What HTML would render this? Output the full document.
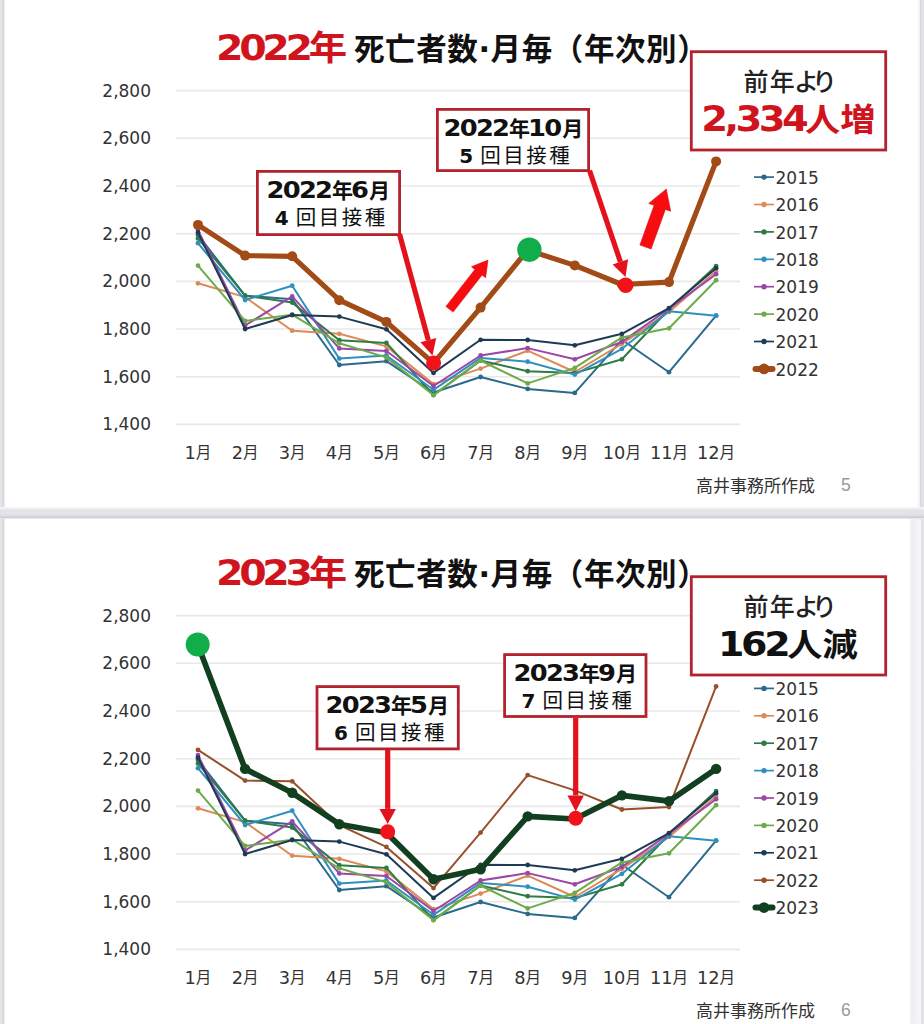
<!DOCTYPE html>
<html lang="ja"><head><meta charset="utf-8"><title>死亡者数・月毎（年次別）</title>
<style>
html,body{margin:0;padding:0;background:#fff;}
body{width:924px;height:1024px;overflow:hidden;position:relative;}
.edgel{position:absolute;top:0;bottom:0;left:0;width:6px;background:linear-gradient(to right,#e8e8ee 0,#e2e2e7 1.5px,#d6d6db 3.5px,#f4f4f6 4.6px,rgba(255,255,255,0) 6px);}
.edger{position:absolute;top:0;bottom:0;right:0;width:7px;background:linear-gradient(to right,rgba(255,255,255,0) 0,#f2f2f5 2.5px,#d9d9dd 3.4px,#e2e2e6 4.3px,#e2e2e6 7px);}
.sep{position:absolute;left:0;right:0;top:506.5px;height:12.5px;background:linear-gradient(#f6f6f8 0,#f1f1f4 1.5px,#e2e2e7 3.5px,#e4e4ed 6px,#dedee2 8.5px,#cfcfd3 10.5px,#e8e8ea 11.5px,#fff 12.5px);}
svg{position:absolute;left:0;top:0;}
.band{position:absolute;left:909.5px;top:518px;bottom:0;width:11px;background:linear-gradient(to right,#f7f7f8 0,#efeff1 1px,#f0f0f2 5.5px,#f4f4f6 7px,#f5f5f7 10.5px);}
</style></head><body>
<svg width="924" height="1024" viewBox="0 0 924 1024">
<g transform="translate(216 59.6) scale(1.13 1)"><text x="0" y="0" font-family='"DejaVu Sans", "Noto Sans CJK JP", sans-serif' font-weight="700" font-size="35" letter-spacing="-3.83" fill="#d0141e">2022<tspan font-family='"Noto Sans CJK JP", sans-serif' font-size="34" letter-spacing="0">年</tspan></text></g>
<text x="354" y="60" font-family='"Noto Sans CJK JP", sans-serif' font-weight="700" font-size="30.5" letter-spacing="0.6" fill="#111">死亡者数<tspan font-family='"DejaVu Sans", "Noto Sans CJK JP", sans-serif'>·</tspan>月毎（年次別）</text>
<line x1="176" y1="424.4" x2="740" y2="424.4" stroke="#e8e8e8" stroke-width="1.6"/>
<text x="151" y="430.4" text-anchor="end" font-family='"DejaVu Sans", "Noto Sans CJK JP", sans-serif' font-size="17" fill="#333">1,400</text>
<line x1="176" y1="376.7" x2="740" y2="376.7" stroke="#e8e8e8" stroke-width="1.6"/>
<text x="151" y="382.7" text-anchor="end" font-family='"DejaVu Sans", "Noto Sans CJK JP", sans-serif' font-size="17" fill="#333">1,600</text>
<line x1="176" y1="329.0" x2="740" y2="329.0" stroke="#e8e8e8" stroke-width="1.6"/>
<text x="151" y="335.0" text-anchor="end" font-family='"DejaVu Sans", "Noto Sans CJK JP", sans-serif' font-size="17" fill="#333">1,800</text>
<line x1="176" y1="281.4" x2="740" y2="281.4" stroke="#e8e8e8" stroke-width="1.6"/>
<text x="151" y="287.4" text-anchor="end" font-family='"DejaVu Sans", "Noto Sans CJK JP", sans-serif' font-size="17" fill="#333">2,000</text>
<line x1="176" y1="233.7" x2="740" y2="233.7" stroke="#e8e8e8" stroke-width="1.6"/>
<text x="151" y="239.7" text-anchor="end" font-family='"DejaVu Sans", "Noto Sans CJK JP", sans-serif' font-size="17" fill="#333">2,200</text>
<line x1="176" y1="186.0" x2="740" y2="186.0" stroke="#e8e8e8" stroke-width="1.6"/>
<text x="151" y="192.0" text-anchor="end" font-family='"DejaVu Sans", "Noto Sans CJK JP", sans-serif' font-size="17" fill="#333">2,400</text>
<line x1="176" y1="138.3" x2="740" y2="138.3" stroke="#e8e8e8" stroke-width="1.6"/>
<text x="151" y="144.3" text-anchor="end" font-family='"DejaVu Sans", "Noto Sans CJK JP", sans-serif' font-size="17" fill="#333">2,600</text>
<line x1="176" y1="90.6" x2="740" y2="90.6" stroke="#e8e8e8" stroke-width="1.6"/>
<text x="151" y="96.6" text-anchor="end" font-family='"DejaVu Sans", "Noto Sans CJK JP", sans-serif' font-size="17" fill="#333">2,800</text>
<text x="198.0" y="459.3" text-anchor="middle" font-family='"DejaVu Sans", "Noto Sans CJK JP", sans-serif' font-size="17.8" fill="#333">1<tspan font-family='"Noto Sans CJK JP", sans-serif' font-size="15.6" dy="-1.2">月</tspan></text>
<text x="245.1" y="459.3" text-anchor="middle" font-family='"DejaVu Sans", "Noto Sans CJK JP", sans-serif' font-size="17.8" fill="#333">2<tspan font-family='"Noto Sans CJK JP", sans-serif' font-size="15.6" dy="-1.2">月</tspan></text>
<text x="292.2" y="459.3" text-anchor="middle" font-family='"DejaVu Sans", "Noto Sans CJK JP", sans-serif' font-size="17.8" fill="#333">3<tspan font-family='"Noto Sans CJK JP", sans-serif' font-size="15.6" dy="-1.2">月</tspan></text>
<text x="339.3" y="459.3" text-anchor="middle" font-family='"DejaVu Sans", "Noto Sans CJK JP", sans-serif' font-size="17.8" fill="#333">4<tspan font-family='"Noto Sans CJK JP", sans-serif' font-size="15.6" dy="-1.2">月</tspan></text>
<text x="386.4" y="459.3" text-anchor="middle" font-family='"DejaVu Sans", "Noto Sans CJK JP", sans-serif' font-size="17.8" fill="#333">5<tspan font-family='"Noto Sans CJK JP", sans-serif' font-size="15.6" dy="-1.2">月</tspan></text>
<text x="433.5" y="459.3" text-anchor="middle" font-family='"DejaVu Sans", "Noto Sans CJK JP", sans-serif' font-size="17.8" fill="#333">6<tspan font-family='"Noto Sans CJK JP", sans-serif' font-size="15.6" dy="-1.2">月</tspan></text>
<text x="480.6" y="459.3" text-anchor="middle" font-family='"DejaVu Sans", "Noto Sans CJK JP", sans-serif' font-size="17.8" fill="#333">7<tspan font-family='"Noto Sans CJK JP", sans-serif' font-size="15.6" dy="-1.2">月</tspan></text>
<text x="527.7" y="459.3" text-anchor="middle" font-family='"DejaVu Sans", "Noto Sans CJK JP", sans-serif' font-size="17.8" fill="#333">8<tspan font-family='"Noto Sans CJK JP", sans-serif' font-size="15.6" dy="-1.2">月</tspan></text>
<text x="574.8" y="459.3" text-anchor="middle" font-family='"DejaVu Sans", "Noto Sans CJK JP", sans-serif' font-size="17.8" fill="#333">9<tspan font-family='"Noto Sans CJK JP", sans-serif' font-size="15.6" dy="-1.2">月</tspan></text>
<text x="621.9" y="459.3" text-anchor="middle" font-family='"DejaVu Sans", "Noto Sans CJK JP", sans-serif' font-size="17.8" fill="#333">10<tspan font-family='"Noto Sans CJK JP", sans-serif' font-size="15.6" dy="-1.2">月</tspan></text>
<text x="669.0" y="459.3" text-anchor="middle" font-family='"DejaVu Sans", "Noto Sans CJK JP", sans-serif' font-size="17.8" fill="#333">11<tspan font-family='"Noto Sans CJK JP", sans-serif' font-size="15.6" dy="-1.2">月</tspan></text>
<text x="716.1" y="459.3" text-anchor="middle" font-family='"DejaVu Sans", "Noto Sans CJK JP", sans-serif' font-size="17.8" fill="#333">12<tspan font-family='"Noto Sans CJK JP", sans-serif' font-size="15.6" dy="-1.2">月</tspan></text>
<polyline points="198.0,234.9 245.1,295.7 292.2,299.2 339.3,365.0 386.4,361.2 433.5,392.5 480.6,377.0 527.7,388.9 574.8,392.9 621.9,339.8 669.0,372.2 716.1,315.7" fill="none" stroke="#2b6a8c" stroke-width="2" stroke-linejoin="round"/><circle cx="198.0" cy="234.9" r="2.4" fill="#2b6a8c"/><circle cx="245.1" cy="295.7" r="2.4" fill="#2b6a8c"/><circle cx="292.2" cy="299.2" r="2.4" fill="#2b6a8c"/><circle cx="339.3" cy="365.0" r="2.4" fill="#2b6a8c"/><circle cx="386.4" cy="361.2" r="2.4" fill="#2b6a8c"/><circle cx="433.5" cy="392.5" r="2.4" fill="#2b6a8c"/><circle cx="480.6" cy="377.0" r="2.4" fill="#2b6a8c"/><circle cx="527.7" cy="388.9" r="2.4" fill="#2b6a8c"/><circle cx="574.8" cy="392.9" r="2.4" fill="#2b6a8c"/><circle cx="621.9" cy="339.8" r="2.4" fill="#2b6a8c"/><circle cx="669.0" cy="372.2" r="2.4" fill="#2b6a8c"/><circle cx="716.1" cy="315.7" r="2.4" fill="#2b6a8c"/>
<polyline points="198.0,283.3 245.1,297.1 292.2,330.7 339.3,333.8 386.4,346.4 433.5,384.1 480.6,368.6 527.7,350.7 574.8,372.0 621.9,343.8 669.0,311.9 716.1,271.3" fill="none" stroke="#dc8a5a" stroke-width="2" stroke-linejoin="round"/><circle cx="198.0" cy="283.3" r="2.4" fill="#dc8a5a"/><circle cx="245.1" cy="297.1" r="2.4" fill="#dc8a5a"/><circle cx="292.2" cy="330.7" r="2.4" fill="#dc8a5a"/><circle cx="339.3" cy="333.8" r="2.4" fill="#dc8a5a"/><circle cx="386.4" cy="346.4" r="2.4" fill="#dc8a5a"/><circle cx="433.5" cy="384.1" r="2.4" fill="#dc8a5a"/><circle cx="480.6" cy="368.6" r="2.4" fill="#dc8a5a"/><circle cx="527.7" cy="350.7" r="2.4" fill="#dc8a5a"/><circle cx="574.8" cy="372.0" r="2.4" fill="#dc8a5a"/><circle cx="621.9" cy="343.8" r="2.4" fill="#dc8a5a"/><circle cx="669.0" cy="311.9" r="2.4" fill="#dc8a5a"/><circle cx="716.1" cy="271.3" r="2.4" fill="#dc8a5a"/>
<polyline points="198.0,238.4 245.1,295.7 292.2,302.6 339.3,340.2 386.4,342.9 433.5,395.1 480.6,360.5 527.7,371.2 574.8,373.1 621.9,359.3 669.0,309.3 716.1,266.1" fill="none" stroke="#2f7a45" stroke-width="2" stroke-linejoin="round"/><circle cx="198.0" cy="238.4" r="2.4" fill="#2f7a45"/><circle cx="245.1" cy="295.7" r="2.4" fill="#2f7a45"/><circle cx="292.2" cy="302.6" r="2.4" fill="#2f7a45"/><circle cx="339.3" cy="340.2" r="2.4" fill="#2f7a45"/><circle cx="386.4" cy="342.9" r="2.4" fill="#2f7a45"/><circle cx="433.5" cy="395.1" r="2.4" fill="#2f7a45"/><circle cx="480.6" cy="360.5" r="2.4" fill="#2f7a45"/><circle cx="527.7" cy="371.2" r="2.4" fill="#2f7a45"/><circle cx="574.8" cy="373.1" r="2.4" fill="#2f7a45"/><circle cx="621.9" cy="359.3" r="2.4" fill="#2f7a45"/><circle cx="669.0" cy="309.3" r="2.4" fill="#2f7a45"/><circle cx="716.1" cy="266.1" r="2.4" fill="#2f7a45"/>
<polyline points="198.0,243.2 245.1,300.0 292.2,285.7 339.3,358.6 386.4,355.5 433.5,389.8 480.6,357.9 527.7,361.7 574.8,374.6 621.9,348.8 669.0,311.2 716.1,315.7" fill="none" stroke="#2f90bf" stroke-width="2" stroke-linejoin="round"/><circle cx="198.0" cy="243.2" r="2.4" fill="#2f90bf"/><circle cx="245.1" cy="300.0" r="2.4" fill="#2f90bf"/><circle cx="292.2" cy="285.7" r="2.4" fill="#2f90bf"/><circle cx="339.3" cy="358.6" r="2.4" fill="#2f90bf"/><circle cx="386.4" cy="355.5" r="2.4" fill="#2f90bf"/><circle cx="433.5" cy="389.8" r="2.4" fill="#2f90bf"/><circle cx="480.6" cy="357.9" r="2.4" fill="#2f90bf"/><circle cx="527.7" cy="361.7" r="2.4" fill="#2f90bf"/><circle cx="574.8" cy="374.6" r="2.4" fill="#2f90bf"/><circle cx="621.9" cy="348.8" r="2.4" fill="#2f90bf"/><circle cx="669.0" cy="311.2" r="2.4" fill="#2f90bf"/><circle cx="716.1" cy="315.7" r="2.4" fill="#2f90bf"/>
<polyline points="198.0,230.1 245.1,325.5 292.2,296.4 339.3,348.4 386.4,351.0 433.5,386.0 480.6,355.5 527.7,348.1 574.8,359.3 621.9,341.9 669.0,308.8 716.1,274.2" fill="none" stroke="#9b47a6" stroke-width="2" stroke-linejoin="round"/><circle cx="198.0" cy="230.1" r="2.4" fill="#9b47a6"/><circle cx="245.1" cy="325.5" r="2.4" fill="#9b47a6"/><circle cx="292.2" cy="296.4" r="2.4" fill="#9b47a6"/><circle cx="339.3" cy="348.4" r="2.4" fill="#9b47a6"/><circle cx="386.4" cy="351.0" r="2.4" fill="#9b47a6"/><circle cx="433.5" cy="386.0" r="2.4" fill="#9b47a6"/><circle cx="480.6" cy="355.5" r="2.4" fill="#9b47a6"/><circle cx="527.7" cy="348.1" r="2.4" fill="#9b47a6"/><circle cx="574.8" cy="359.3" r="2.4" fill="#9b47a6"/><circle cx="621.9" cy="341.9" r="2.4" fill="#9b47a6"/><circle cx="669.0" cy="308.8" r="2.4" fill="#9b47a6"/><circle cx="716.1" cy="274.2" r="2.4" fill="#9b47a6"/>
<polyline points="198.0,265.6 245.1,320.9 292.2,314.7 339.3,343.3 386.4,357.4 433.5,395.1 480.6,360.5 527.7,383.4 574.8,367.9 621.9,337.4 669.0,328.3 716.1,280.2" fill="none" stroke="#6cab4a" stroke-width="2" stroke-linejoin="round"/><circle cx="198.0" cy="265.6" r="2.4" fill="#6cab4a"/><circle cx="245.1" cy="320.9" r="2.4" fill="#6cab4a"/><circle cx="292.2" cy="314.7" r="2.4" fill="#6cab4a"/><circle cx="339.3" cy="343.3" r="2.4" fill="#6cab4a"/><circle cx="386.4" cy="357.4" r="2.4" fill="#6cab4a"/><circle cx="433.5" cy="395.1" r="2.4" fill="#6cab4a"/><circle cx="480.6" cy="360.5" r="2.4" fill="#6cab4a"/><circle cx="527.7" cy="383.4" r="2.4" fill="#6cab4a"/><circle cx="574.8" cy="367.9" r="2.4" fill="#6cab4a"/><circle cx="621.9" cy="337.4" r="2.4" fill="#6cab4a"/><circle cx="669.0" cy="328.3" r="2.4" fill="#6cab4a"/><circle cx="716.1" cy="280.2" r="2.4" fill="#6cab4a"/>
<polyline points="198.0,232.5 245.1,329.0 292.2,315.0 339.3,316.6 386.4,329.3 433.5,372.9 480.6,339.8 527.7,340.0 574.8,345.3 621.9,333.8 669.0,308.1 716.1,268.2" fill="none" stroke="#1f3b54" stroke-width="2" stroke-linejoin="round"/><circle cx="198.0" cy="232.5" r="2.4" fill="#1f3b54"/><circle cx="245.1" cy="329.0" r="2.4" fill="#1f3b54"/><circle cx="292.2" cy="315.0" r="2.4" fill="#1f3b54"/><circle cx="339.3" cy="316.6" r="2.4" fill="#1f3b54"/><circle cx="386.4" cy="329.3" r="2.4" fill="#1f3b54"/><circle cx="433.5" cy="372.9" r="2.4" fill="#1f3b54"/><circle cx="480.6" cy="339.8" r="2.4" fill="#1f3b54"/><circle cx="527.7" cy="340.0" r="2.4" fill="#1f3b54"/><circle cx="574.8" cy="345.3" r="2.4" fill="#1f3b54"/><circle cx="621.9" cy="333.8" r="2.4" fill="#1f3b54"/><circle cx="669.0" cy="308.1" r="2.4" fill="#1f3b54"/><circle cx="716.1" cy="268.2" r="2.4" fill="#1f3b54"/>
<polyline points="198.0,224.9 245.1,255.6 292.2,256.3 339.3,300.2 386.4,321.9 433.5,363.1 480.6,307.6 527.7,250.1 574.8,265.4 621.9,284.5 669.0,282.1 716.1,161.4" fill="none" stroke="#a24b17" stroke-width="5.2" stroke-linejoin="round"/><circle cx="198.0" cy="224.9" r="5" fill="#a24b17"/><circle cx="245.1" cy="255.6" r="5" fill="#a24b17"/><circle cx="292.2" cy="256.3" r="5" fill="#a24b17"/><circle cx="339.3" cy="300.2" r="5" fill="#a24b17"/><circle cx="386.4" cy="321.9" r="5" fill="#a24b17"/><circle cx="433.5" cy="363.1" r="5" fill="#a24b17"/><circle cx="480.6" cy="307.6" r="5" fill="#a24b17"/><circle cx="527.7" cy="250.1" r="5" fill="#a24b17"/><circle cx="574.8" cy="265.4" r="5" fill="#a24b17"/><circle cx="621.9" cy="284.5" r="5" fill="#a24b17"/><circle cx="669.0" cy="282.1" r="5" fill="#a24b17"/><circle cx="716.1" cy="161.4" r="5" fill="#a24b17"/>
<line x1="754" y1="177.1" x2="774" y2="177.1" stroke="#2b6a8c" stroke-width="1.7"/><circle cx="764" cy="177.1" r="2.7" fill="#2b6a8c"/>
<text x="775.5" y="183.7" font-family='"DejaVu Sans", "Noto Sans CJK JP", sans-serif' font-size="17" fill="#333">2015</text>
<line x1="754" y1="204.5" x2="774" y2="204.5" stroke="#dc8a5a" stroke-width="1.7"/><circle cx="764" cy="204.5" r="2.7" fill="#dc8a5a"/>
<text x="775.5" y="211.1" font-family='"DejaVu Sans", "Noto Sans CJK JP", sans-serif' font-size="17" fill="#333">2016</text>
<line x1="754" y1="231.9" x2="774" y2="231.9" stroke="#2f7a45" stroke-width="1.7"/><circle cx="764" cy="231.9" r="2.7" fill="#2f7a45"/>
<text x="775.5" y="238.5" font-family='"DejaVu Sans", "Noto Sans CJK JP", sans-serif' font-size="17" fill="#333">2017</text>
<line x1="754" y1="259.3" x2="774" y2="259.3" stroke="#2f90bf" stroke-width="1.7"/><circle cx="764" cy="259.3" r="2.7" fill="#2f90bf"/>
<text x="775.5" y="265.9" font-family='"DejaVu Sans", "Noto Sans CJK JP", sans-serif' font-size="17" fill="#333">2018</text>
<line x1="754" y1="286.7" x2="774" y2="286.7" stroke="#9b47a6" stroke-width="1.7"/><circle cx="764" cy="286.7" r="2.7" fill="#9b47a6"/>
<text x="775.5" y="293.3" font-family='"DejaVu Sans", "Noto Sans CJK JP", sans-serif' font-size="17" fill="#333">2019</text>
<line x1="754" y1="314.1" x2="774" y2="314.1" stroke="#6cab4a" stroke-width="1.7"/><circle cx="764" cy="314.1" r="2.7" fill="#6cab4a"/>
<text x="775.5" y="320.7" font-family='"DejaVu Sans", "Noto Sans CJK JP", sans-serif' font-size="17" fill="#333">2020</text>
<line x1="754" y1="341.5" x2="774" y2="341.5" stroke="#1f3b54" stroke-width="1.7"/><circle cx="764" cy="341.5" r="2.7" fill="#1f3b54"/>
<text x="775.5" y="348.1" font-family='"DejaVu Sans", "Noto Sans CJK JP", sans-serif' font-size="17" fill="#333">2021</text>
<line x1="755.5" y1="368.9" x2="772.5" y2="368.9" stroke="#a24b17" stroke-width="6" stroke-linecap="round"/><circle cx="764" cy="368.9" r="5.3" fill="#a24b17"/>
<text x="775.5" y="375.5" font-family='"DejaVu Sans", "Noto Sans CJK JP", sans-serif' font-size="17" fill="#333">2022</text>
<rect x="257.4" y="171.4" width="142.2" height="63.2" fill="#fff" stroke="#b3222d" stroke-width="2.8"/><g transform="translate(266.5 198.0) scale(1.15 1)"><text x="0" y="0" font-family='"DejaVu Sans", "Noto Sans CJK JP", sans-serif' font-weight="700" font-size="22.4" letter-spacing="-1.5" fill="#111">2022</text></g><text x="332.0" y="198.0" font-family='"Noto Sans CJK JP", sans-serif' font-weight="700" font-size="21" fill="#111">年</text><g transform="translate(351.0 198.0) scale(1.15 1)"><text x="0" y="0" font-family='"DejaVu Sans", "Noto Sans CJK JP", sans-serif' font-weight="700" font-size="22.4" letter-spacing="-1.5" fill="#111">6</text></g><text x="369.0" y="198.0" font-family='"Noto Sans CJK JP", sans-serif' font-weight="700" font-size="21" fill="#111">月</text><text x="331.3" y="224.5" text-anchor="middle" font-family='"Noto Sans CJK JP", sans-serif' font-size="20.5" font-weight="400" letter-spacing="2.5" fill="#111"><tspan font-family='"DejaVu Sans", "Noto Sans CJK JP", sans-serif' font-weight="700" font-size="20" letter-spacing="0">4</tspan> 回目接種</text>
<rect x="437.4" y="109.4" width="151.2" height="61.2" fill="#fff" stroke="#b3222d" stroke-width="2.8"/><g transform="translate(443.5 136.0) scale(1.15 1)"><text x="0" y="0" font-family='"DejaVu Sans", "Noto Sans CJK JP", sans-serif' font-weight="700" font-size="22.4" letter-spacing="-1.5" fill="#111">2022</text></g><text x="509.0" y="136.0" font-family='"Noto Sans CJK JP", sans-serif' font-weight="700" font-size="21" fill="#111">年</text><g transform="translate(528.0 136.0) scale(1.15 1)"><text x="0" y="0" font-family='"DejaVu Sans", "Noto Sans CJK JP", sans-serif' font-weight="700" font-size="22.4" letter-spacing="-1.5" fill="#111">10</text></g><text x="562.2" y="136.0" font-family='"Noto Sans CJK JP", sans-serif' font-weight="700" font-size="21" fill="#111">月</text><text x="515.8" y="162.5" text-anchor="middle" font-family='"Noto Sans CJK JP", sans-serif' font-size="20.5" font-weight="400" letter-spacing="2.5" fill="#111"><tspan font-family='"DejaVu Sans", "Noto Sans CJK JP", sans-serif' font-weight="700" font-size="20" letter-spacing="0">5</tspan> 回目接種</text>
<line x1="399.5" y1="234" x2="428.3" y2="340.1" stroke="#e3121d" stroke-width="5.2"/><polygon points="432.5,355.5 420.4,342.2 436.2,337.9" fill="#e3121d"/>
<line x1="589.5" y1="170.5" x2="620.4" y2="261.8" stroke="#e3121d" stroke-width="5.2"/><polygon points="625.5,277 612.6,264.5 628.1,259.2" fill="#e3121d"/>
<circle cx="433.6" cy="363" r="7.5" fill="#f2121a"/>
<circle cx="625.7" cy="285.2" r="7.8" fill="#f2121a"/>
<circle cx="529.4" cy="249.7" r="12.2" fill="#12ad4b"/>
<polygon points="453.1,312.1 482.1,275.1 485.6,277.8 488.0,260.1 471.4,266.7 474.9,269.4 445.9,306.5" fill="#f70d10" stroke="#d80f18" stroke-width="0.6" stroke-linejoin="miter"/>
<polygon points="651.1,249.0 665.4,209.4 670.7,211.3 666.3,189.0 648.7,203.4 654.1,205.3 639.9,245.0" fill="#f70d10" stroke="#d80f18" stroke-width="0.6" stroke-linejoin="miter"/>
<rect x="691.3" y="51.7" width="194.4" height="98.3" fill="#fff" stroke="#b3222d" stroke-width="2.8"/>
<text x="743.5 769.7 793.9 812.1" y="90.7" font-family='"Noto Sans CJK JP", sans-serif' font-size="25" font-weight="500" fill="#222">前年より</text>
<g transform="translate(701.3 131) scale(1.1 1)"><text x="0" y="0" font-family='"DejaVu Sans", "Noto Sans CJK JP", sans-serif' font-weight="700" font-size="35" letter-spacing="-3.27" fill="#d0141e">2,334<tspan font-family='"Noto Sans CJK JP", sans-serif' font-size="32" letter-spacing="0">人増</tspan></text></g>
<text x="696" y="492" font-family='"Noto Sans CJK JP", sans-serif' font-size="17" fill="#333">高井事務所作成</text>
<text x="841" y="490.8" font-family="Liberation Sans, sans-serif" font-size="17.5" fill="#999">5</text>
<g transform="translate(216 584.6) scale(1.13 1)"><text x="0" y="0" font-family='"DejaVu Sans", "Noto Sans CJK JP", sans-serif' font-weight="700" font-size="35" letter-spacing="-3.83" fill="#d0141e">2023<tspan font-family='"Noto Sans CJK JP", sans-serif' font-size="34" letter-spacing="0">年</tspan></text></g>
<text x="354" y="585" font-family='"Noto Sans CJK JP", sans-serif' font-weight="700" font-size="30.5" letter-spacing="0.6" fill="#111">死亡者数<tspan font-family='"DejaVu Sans", "Noto Sans CJK JP", sans-serif'>·</tspan>月毎（年次別）</text>
<line x1="176" y1="949.4" x2="740" y2="949.4" stroke="#e8e8e8" stroke-width="1.6"/>
<text x="151" y="955.4" text-anchor="end" font-family='"DejaVu Sans", "Noto Sans CJK JP", sans-serif' font-size="17" fill="#333">1,400</text>
<line x1="176" y1="901.7" x2="740" y2="901.7" stroke="#e8e8e8" stroke-width="1.6"/>
<text x="151" y="907.7" text-anchor="end" font-family='"DejaVu Sans", "Noto Sans CJK JP", sans-serif' font-size="17" fill="#333">1,600</text>
<line x1="176" y1="854.0" x2="740" y2="854.0" stroke="#e8e8e8" stroke-width="1.6"/>
<text x="151" y="860.0" text-anchor="end" font-family='"DejaVu Sans", "Noto Sans CJK JP", sans-serif' font-size="17" fill="#333">1,800</text>
<line x1="176" y1="806.4" x2="740" y2="806.4" stroke="#e8e8e8" stroke-width="1.6"/>
<text x="151" y="812.4" text-anchor="end" font-family='"DejaVu Sans", "Noto Sans CJK JP", sans-serif' font-size="17" fill="#333">2,000</text>
<line x1="176" y1="758.7" x2="740" y2="758.7" stroke="#e8e8e8" stroke-width="1.6"/>
<text x="151" y="764.7" text-anchor="end" font-family='"DejaVu Sans", "Noto Sans CJK JP", sans-serif' font-size="17" fill="#333">2,200</text>
<line x1="176" y1="711.0" x2="740" y2="711.0" stroke="#e8e8e8" stroke-width="1.6"/>
<text x="151" y="717.0" text-anchor="end" font-family='"DejaVu Sans", "Noto Sans CJK JP", sans-serif' font-size="17" fill="#333">2,400</text>
<line x1="176" y1="663.3" x2="740" y2="663.3" stroke="#e8e8e8" stroke-width="1.6"/>
<text x="151" y="669.3" text-anchor="end" font-family='"DejaVu Sans", "Noto Sans CJK JP", sans-serif' font-size="17" fill="#333">2,600</text>
<line x1="176" y1="615.6" x2="740" y2="615.6" stroke="#e8e8e8" stroke-width="1.6"/>
<text x="151" y="621.6" text-anchor="end" font-family='"DejaVu Sans", "Noto Sans CJK JP", sans-serif' font-size="17" fill="#333">2,800</text>
<text x="198.0" y="984.3" text-anchor="middle" font-family='"DejaVu Sans", "Noto Sans CJK JP", sans-serif' font-size="17.8" fill="#333">1<tspan font-family='"Noto Sans CJK JP", sans-serif' font-size="15.6" dy="-1.2">月</tspan></text>
<text x="245.1" y="984.3" text-anchor="middle" font-family='"DejaVu Sans", "Noto Sans CJK JP", sans-serif' font-size="17.8" fill="#333">2<tspan font-family='"Noto Sans CJK JP", sans-serif' font-size="15.6" dy="-1.2">月</tspan></text>
<text x="292.2" y="984.3" text-anchor="middle" font-family='"DejaVu Sans", "Noto Sans CJK JP", sans-serif' font-size="17.8" fill="#333">3<tspan font-family='"Noto Sans CJK JP", sans-serif' font-size="15.6" dy="-1.2">月</tspan></text>
<text x="339.3" y="984.3" text-anchor="middle" font-family='"DejaVu Sans", "Noto Sans CJK JP", sans-serif' font-size="17.8" fill="#333">4<tspan font-family='"Noto Sans CJK JP", sans-serif' font-size="15.6" dy="-1.2">月</tspan></text>
<text x="386.4" y="984.3" text-anchor="middle" font-family='"DejaVu Sans", "Noto Sans CJK JP", sans-serif' font-size="17.8" fill="#333">5<tspan font-family='"Noto Sans CJK JP", sans-serif' font-size="15.6" dy="-1.2">月</tspan></text>
<text x="433.5" y="984.3" text-anchor="middle" font-family='"DejaVu Sans", "Noto Sans CJK JP", sans-serif' font-size="17.8" fill="#333">6<tspan font-family='"Noto Sans CJK JP", sans-serif' font-size="15.6" dy="-1.2">月</tspan></text>
<text x="480.6" y="984.3" text-anchor="middle" font-family='"DejaVu Sans", "Noto Sans CJK JP", sans-serif' font-size="17.8" fill="#333">7<tspan font-family='"Noto Sans CJK JP", sans-serif' font-size="15.6" dy="-1.2">月</tspan></text>
<text x="527.7" y="984.3" text-anchor="middle" font-family='"DejaVu Sans", "Noto Sans CJK JP", sans-serif' font-size="17.8" fill="#333">8<tspan font-family='"Noto Sans CJK JP", sans-serif' font-size="15.6" dy="-1.2">月</tspan></text>
<text x="574.8" y="984.3" text-anchor="middle" font-family='"DejaVu Sans", "Noto Sans CJK JP", sans-serif' font-size="17.8" fill="#333">9<tspan font-family='"Noto Sans CJK JP", sans-serif' font-size="15.6" dy="-1.2">月</tspan></text>
<text x="621.9" y="984.3" text-anchor="middle" font-family='"DejaVu Sans", "Noto Sans CJK JP", sans-serif' font-size="17.8" fill="#333">10<tspan font-family='"Noto Sans CJK JP", sans-serif' font-size="15.6" dy="-1.2">月</tspan></text>
<text x="669.0" y="984.3" text-anchor="middle" font-family='"DejaVu Sans", "Noto Sans CJK JP", sans-serif' font-size="17.8" fill="#333">11<tspan font-family='"Noto Sans CJK JP", sans-serif' font-size="15.6" dy="-1.2">月</tspan></text>
<text x="716.1" y="984.3" text-anchor="middle" font-family='"DejaVu Sans", "Noto Sans CJK JP", sans-serif' font-size="17.8" fill="#333">12<tspan font-family='"Noto Sans CJK JP", sans-serif' font-size="15.6" dy="-1.2">月</tspan></text>
<polyline points="198.0,759.9 245.1,820.7 292.2,824.2 339.3,890.0 386.4,886.2 433.5,917.5 480.6,902.0 527.7,913.9 574.8,917.9 621.9,864.8 669.0,897.2 716.1,840.7" fill="none" stroke="#2b6a8c" stroke-width="2" stroke-linejoin="round"/><circle cx="198.0" cy="759.9" r="2.4" fill="#2b6a8c"/><circle cx="245.1" cy="820.7" r="2.4" fill="#2b6a8c"/><circle cx="292.2" cy="824.2" r="2.4" fill="#2b6a8c"/><circle cx="339.3" cy="890.0" r="2.4" fill="#2b6a8c"/><circle cx="386.4" cy="886.2" r="2.4" fill="#2b6a8c"/><circle cx="433.5" cy="917.5" r="2.4" fill="#2b6a8c"/><circle cx="480.6" cy="902.0" r="2.4" fill="#2b6a8c"/><circle cx="527.7" cy="913.9" r="2.4" fill="#2b6a8c"/><circle cx="574.8" cy="917.9" r="2.4" fill="#2b6a8c"/><circle cx="621.9" cy="864.8" r="2.4" fill="#2b6a8c"/><circle cx="669.0" cy="897.2" r="2.4" fill="#2b6a8c"/><circle cx="716.1" cy="840.7" r="2.4" fill="#2b6a8c"/>
<polyline points="198.0,808.3 245.1,822.1 292.2,855.7 339.3,858.8 386.4,871.4 433.5,909.1 480.6,893.6 527.7,875.7 574.8,897.0 621.9,868.8 669.0,836.9 716.1,796.3" fill="none" stroke="#dc8a5a" stroke-width="2" stroke-linejoin="round"/><circle cx="198.0" cy="808.3" r="2.4" fill="#dc8a5a"/><circle cx="245.1" cy="822.1" r="2.4" fill="#dc8a5a"/><circle cx="292.2" cy="855.7" r="2.4" fill="#dc8a5a"/><circle cx="339.3" cy="858.8" r="2.4" fill="#dc8a5a"/><circle cx="386.4" cy="871.4" r="2.4" fill="#dc8a5a"/><circle cx="433.5" cy="909.1" r="2.4" fill="#dc8a5a"/><circle cx="480.6" cy="893.6" r="2.4" fill="#dc8a5a"/><circle cx="527.7" cy="875.7" r="2.4" fill="#dc8a5a"/><circle cx="574.8" cy="897.0" r="2.4" fill="#dc8a5a"/><circle cx="621.9" cy="868.8" r="2.4" fill="#dc8a5a"/><circle cx="669.0" cy="836.9" r="2.4" fill="#dc8a5a"/><circle cx="716.1" cy="796.3" r="2.4" fill="#dc8a5a"/>
<polyline points="198.0,763.4 245.1,820.7 292.2,827.6 339.3,865.2 386.4,867.9 433.5,920.1 480.6,885.5 527.7,896.2 574.8,898.1 621.9,884.3 669.0,834.3 716.1,791.1" fill="none" stroke="#2f7a45" stroke-width="2" stroke-linejoin="round"/><circle cx="198.0" cy="763.4" r="2.4" fill="#2f7a45"/><circle cx="245.1" cy="820.7" r="2.4" fill="#2f7a45"/><circle cx="292.2" cy="827.6" r="2.4" fill="#2f7a45"/><circle cx="339.3" cy="865.2" r="2.4" fill="#2f7a45"/><circle cx="386.4" cy="867.9" r="2.4" fill="#2f7a45"/><circle cx="433.5" cy="920.1" r="2.4" fill="#2f7a45"/><circle cx="480.6" cy="885.5" r="2.4" fill="#2f7a45"/><circle cx="527.7" cy="896.2" r="2.4" fill="#2f7a45"/><circle cx="574.8" cy="898.1" r="2.4" fill="#2f7a45"/><circle cx="621.9" cy="884.3" r="2.4" fill="#2f7a45"/><circle cx="669.0" cy="834.3" r="2.4" fill="#2f7a45"/><circle cx="716.1" cy="791.1" r="2.4" fill="#2f7a45"/>
<polyline points="198.0,768.2 245.1,825.0 292.2,810.7 339.3,883.6 386.4,880.5 433.5,914.8 480.6,882.9 527.7,886.7 574.8,899.6 621.9,873.8 669.0,836.2 716.1,840.7" fill="none" stroke="#2f90bf" stroke-width="2" stroke-linejoin="round"/><circle cx="198.0" cy="768.2" r="2.4" fill="#2f90bf"/><circle cx="245.1" cy="825.0" r="2.4" fill="#2f90bf"/><circle cx="292.2" cy="810.7" r="2.4" fill="#2f90bf"/><circle cx="339.3" cy="883.6" r="2.4" fill="#2f90bf"/><circle cx="386.4" cy="880.5" r="2.4" fill="#2f90bf"/><circle cx="433.5" cy="914.8" r="2.4" fill="#2f90bf"/><circle cx="480.6" cy="882.9" r="2.4" fill="#2f90bf"/><circle cx="527.7" cy="886.7" r="2.4" fill="#2f90bf"/><circle cx="574.8" cy="899.6" r="2.4" fill="#2f90bf"/><circle cx="621.9" cy="873.8" r="2.4" fill="#2f90bf"/><circle cx="669.0" cy="836.2" r="2.4" fill="#2f90bf"/><circle cx="716.1" cy="840.7" r="2.4" fill="#2f90bf"/>
<polyline points="198.0,755.1 245.1,850.5 292.2,821.4 339.3,873.4 386.4,876.0 433.5,911.0 480.6,880.5 527.7,873.1 574.8,884.3 621.9,866.9 669.0,833.8 716.1,799.2" fill="none" stroke="#9b47a6" stroke-width="2" stroke-linejoin="round"/><circle cx="198.0" cy="755.1" r="2.4" fill="#9b47a6"/><circle cx="245.1" cy="850.5" r="2.4" fill="#9b47a6"/><circle cx="292.2" cy="821.4" r="2.4" fill="#9b47a6"/><circle cx="339.3" cy="873.4" r="2.4" fill="#9b47a6"/><circle cx="386.4" cy="876.0" r="2.4" fill="#9b47a6"/><circle cx="433.5" cy="911.0" r="2.4" fill="#9b47a6"/><circle cx="480.6" cy="880.5" r="2.4" fill="#9b47a6"/><circle cx="527.7" cy="873.1" r="2.4" fill="#9b47a6"/><circle cx="574.8" cy="884.3" r="2.4" fill="#9b47a6"/><circle cx="621.9" cy="866.9" r="2.4" fill="#9b47a6"/><circle cx="669.0" cy="833.8" r="2.4" fill="#9b47a6"/><circle cx="716.1" cy="799.2" r="2.4" fill="#9b47a6"/>
<polyline points="198.0,790.6 245.1,845.9 292.2,839.7 339.3,868.3 386.4,882.4 433.5,920.1 480.6,885.5 527.7,908.4 574.8,892.9 621.9,862.4 669.0,853.3 716.1,805.2" fill="none" stroke="#6cab4a" stroke-width="2" stroke-linejoin="round"/><circle cx="198.0" cy="790.6" r="2.4" fill="#6cab4a"/><circle cx="245.1" cy="845.9" r="2.4" fill="#6cab4a"/><circle cx="292.2" cy="839.7" r="2.4" fill="#6cab4a"/><circle cx="339.3" cy="868.3" r="2.4" fill="#6cab4a"/><circle cx="386.4" cy="882.4" r="2.4" fill="#6cab4a"/><circle cx="433.5" cy="920.1" r="2.4" fill="#6cab4a"/><circle cx="480.6" cy="885.5" r="2.4" fill="#6cab4a"/><circle cx="527.7" cy="908.4" r="2.4" fill="#6cab4a"/><circle cx="574.8" cy="892.9" r="2.4" fill="#6cab4a"/><circle cx="621.9" cy="862.4" r="2.4" fill="#6cab4a"/><circle cx="669.0" cy="853.3" r="2.4" fill="#6cab4a"/><circle cx="716.1" cy="805.2" r="2.4" fill="#6cab4a"/>
<polyline points="198.0,757.5 245.1,854.0 292.2,840.0 339.3,841.6 386.4,854.3 433.5,897.9 480.6,864.8 527.7,865.0 574.8,870.3 621.9,858.8 669.0,833.1 716.1,793.2" fill="none" stroke="#1f3b54" stroke-width="2" stroke-linejoin="round"/><circle cx="198.0" cy="757.5" r="2.4" fill="#1f3b54"/><circle cx="245.1" cy="854.0" r="2.4" fill="#1f3b54"/><circle cx="292.2" cy="840.0" r="2.4" fill="#1f3b54"/><circle cx="339.3" cy="841.6" r="2.4" fill="#1f3b54"/><circle cx="386.4" cy="854.3" r="2.4" fill="#1f3b54"/><circle cx="433.5" cy="897.9" r="2.4" fill="#1f3b54"/><circle cx="480.6" cy="864.8" r="2.4" fill="#1f3b54"/><circle cx="527.7" cy="865.0" r="2.4" fill="#1f3b54"/><circle cx="574.8" cy="870.3" r="2.4" fill="#1f3b54"/><circle cx="621.9" cy="858.8" r="2.4" fill="#1f3b54"/><circle cx="669.0" cy="833.1" r="2.4" fill="#1f3b54"/><circle cx="716.1" cy="793.2" r="2.4" fill="#1f3b54"/>
<polyline points="198.0,749.9 245.1,780.6 292.2,781.3 339.3,825.2 386.4,846.9 433.5,888.1 480.6,832.6 527.7,775.1 574.8,790.4 621.9,809.5 669.0,807.1 716.1,686.4" fill="none" stroke="#98502a" stroke-width="2" stroke-linejoin="round"/><circle cx="198.0" cy="749.9" r="2.4" fill="#98502a"/><circle cx="245.1" cy="780.6" r="2.4" fill="#98502a"/><circle cx="292.2" cy="781.3" r="2.4" fill="#98502a"/><circle cx="339.3" cy="825.2" r="2.4" fill="#98502a"/><circle cx="386.4" cy="846.9" r="2.4" fill="#98502a"/><circle cx="433.5" cy="888.1" r="2.4" fill="#98502a"/><circle cx="480.6" cy="832.6" r="2.4" fill="#98502a"/><circle cx="527.7" cy="775.1" r="2.4" fill="#98502a"/><circle cx="574.8" cy="790.4" r="2.4" fill="#98502a"/><circle cx="621.9" cy="809.5" r="2.4" fill="#98502a"/><circle cx="669.0" cy="807.1" r="2.4" fill="#98502a"/><circle cx="716.1" cy="686.4" r="2.4" fill="#98502a"/>
<polyline points="198.0,645.2 245.1,768.9 292.2,792.8 339.3,824.2 386.4,832.8 433.5,879.3 480.6,869.3 527.7,816.4 574.8,819.0 621.9,795.4 669.0,801.1 716.1,768.9" fill="none" stroke="#123f1f" stroke-width="5.7" stroke-linejoin="round"/><circle cx="198.0" cy="645.2" r="5.2" fill="#123f1f"/><circle cx="245.1" cy="768.9" r="5.2" fill="#123f1f"/><circle cx="292.2" cy="792.8" r="5.2" fill="#123f1f"/><circle cx="339.3" cy="824.2" r="5.2" fill="#123f1f"/><circle cx="386.4" cy="832.8" r="5.2" fill="#123f1f"/><circle cx="433.5" cy="879.3" r="5.2" fill="#123f1f"/><circle cx="480.6" cy="869.3" r="5.2" fill="#123f1f"/><circle cx="527.7" cy="816.4" r="5.2" fill="#123f1f"/><circle cx="574.8" cy="819.0" r="5.2" fill="#123f1f"/><circle cx="621.9" cy="795.4" r="5.2" fill="#123f1f"/><circle cx="669.0" cy="801.1" r="5.2" fill="#123f1f"/><circle cx="716.1" cy="768.9" r="5.2" fill="#123f1f"/>
<line x1="754" y1="688.4" x2="774" y2="688.4" stroke="#2b6a8c" stroke-width="1.7"/><circle cx="764" cy="688.4" r="2.7" fill="#2b6a8c"/>
<text x="775.5" y="695.0" font-family='"DejaVu Sans", "Noto Sans CJK JP", sans-serif' font-size="17" fill="#333">2015</text>
<line x1="754" y1="715.8" x2="774" y2="715.8" stroke="#dc8a5a" stroke-width="1.7"/><circle cx="764" cy="715.8" r="2.7" fill="#dc8a5a"/>
<text x="775.5" y="722.4" font-family='"DejaVu Sans", "Noto Sans CJK JP", sans-serif' font-size="17" fill="#333">2016</text>
<line x1="754" y1="743.2" x2="774" y2="743.2" stroke="#2f7a45" stroke-width="1.7"/><circle cx="764" cy="743.2" r="2.7" fill="#2f7a45"/>
<text x="775.5" y="749.8" font-family='"DejaVu Sans", "Noto Sans CJK JP", sans-serif' font-size="17" fill="#333">2017</text>
<line x1="754" y1="770.6" x2="774" y2="770.6" stroke="#2f90bf" stroke-width="1.7"/><circle cx="764" cy="770.6" r="2.7" fill="#2f90bf"/>
<text x="775.5" y="777.2" font-family='"DejaVu Sans", "Noto Sans CJK JP", sans-serif' font-size="17" fill="#333">2018</text>
<line x1="754" y1="798.0" x2="774" y2="798.0" stroke="#9b47a6" stroke-width="1.7"/><circle cx="764" cy="798.0" r="2.7" fill="#9b47a6"/>
<text x="775.5" y="804.6" font-family='"DejaVu Sans", "Noto Sans CJK JP", sans-serif' font-size="17" fill="#333">2019</text>
<line x1="754" y1="825.4" x2="774" y2="825.4" stroke="#6cab4a" stroke-width="1.7"/><circle cx="764" cy="825.4" r="2.7" fill="#6cab4a"/>
<text x="775.5" y="832.0" font-family='"DejaVu Sans", "Noto Sans CJK JP", sans-serif' font-size="17" fill="#333">2020</text>
<line x1="754" y1="852.8" x2="774" y2="852.8" stroke="#1f3b54" stroke-width="1.7"/><circle cx="764" cy="852.8" r="2.7" fill="#1f3b54"/>
<text x="775.5" y="859.4" font-family='"DejaVu Sans", "Noto Sans CJK JP", sans-serif' font-size="17" fill="#333">2021</text>
<line x1="754" y1="880.2" x2="774" y2="880.2" stroke="#98502a" stroke-width="1.7"/><circle cx="764" cy="880.2" r="2.7" fill="#98502a"/>
<text x="775.5" y="886.8" font-family='"DejaVu Sans", "Noto Sans CJK JP", sans-serif' font-size="17" fill="#333">2022</text>
<line x1="755.5" y1="907.6" x2="772.5" y2="907.6" stroke="#123f1f" stroke-width="6" stroke-linecap="round"/><circle cx="764" cy="907.6" r="5.3" fill="#123f1f"/>
<text x="775.5" y="914.2" font-family='"DejaVu Sans", "Noto Sans CJK JP", sans-serif' font-size="17" fill="#333">2023</text>
<rect x="317.0" y="686.6" width="141.29999999999995" height="62.29999999999991" fill="#fff" stroke="#b3222d" stroke-width="2.8"/><g transform="translate(325.5 713.2) scale(1.15 1)"><text x="0" y="0" font-family='"DejaVu Sans", "Noto Sans CJK JP", sans-serif' font-weight="700" font-size="22.4" letter-spacing="-1.5" fill="#111">2023</text></g><text x="391.0" y="713.2" font-family='"Noto Sans CJK JP", sans-serif' font-weight="700" font-size="21" fill="#111">年</text><g transform="translate(410.0 713.2) scale(1.15 1)"><text x="0" y="0" font-family='"DejaVu Sans", "Noto Sans CJK JP", sans-serif' font-weight="700" font-size="22.4" letter-spacing="-1.5" fill="#111">5</text></g><text x="428.0" y="713.2" font-family='"Noto Sans CJK JP", sans-serif' font-weight="700" font-size="21" fill="#111">月</text><text x="390.45" y="739.7" text-anchor="middle" font-family='"Noto Sans CJK JP", sans-serif' font-size="20.5" font-weight="400" letter-spacing="2.5" fill="#111"><tspan font-family='"DejaVu Sans", "Noto Sans CJK JP", sans-serif' font-weight="700" font-size="20" letter-spacing="0">6</tspan> 回目接種</text>
<rect x="504.59999999999997" y="654.6" width="141.39999999999998" height="61.899999999999935" fill="#fff" stroke="#b3222d" stroke-width="2.8"/><g transform="translate(513.5 681.2) scale(1.15 1)"><text x="0" y="0" font-family='"DejaVu Sans", "Noto Sans CJK JP", sans-serif' font-weight="700" font-size="22.4" letter-spacing="-1.5" fill="#111">2023</text></g><text x="579.0" y="681.2" font-family='"Noto Sans CJK JP", sans-serif' font-weight="700" font-size="21" fill="#111">年</text><g transform="translate(598.0 681.2) scale(1.15 1)"><text x="0" y="0" font-family='"DejaVu Sans", "Noto Sans CJK JP", sans-serif' font-weight="700" font-size="22.4" letter-spacing="-1.5" fill="#111">9</text></g><text x="616.0" y="681.2" font-family='"Noto Sans CJK JP", sans-serif' font-weight="700" font-size="21" fill="#111">月</text><text x="578.0999999999999" y="707.7" text-anchor="middle" font-family='"Noto Sans CJK JP", sans-serif' font-size="20.5" font-weight="400" letter-spacing="2.5" fill="#111"><tspan font-family='"DejaVu Sans", "Noto Sans CJK JP", sans-serif' font-weight="700" font-size="20" letter-spacing="0">7</tspan> 回目接種</text>
<line x1="387.7" y1="750" x2="387.7" y2="808.9" stroke="#e3121d" stroke-width="5.2"/><polygon points="387.7,823.9 379.5,808.9 395.9,808.9" fill="#e3121d"/>
<line x1="575.7" y1="718" x2="575.7" y2="795.4" stroke="#e3121d" stroke-width="5.2"/><polygon points="575.7,811.4 567.5,795.4 583.9,795.4" fill="#e3121d"/>
<circle cx="387.7" cy="831.7" r="7.5" fill="#f2121a"/>
<circle cx="575.7" cy="818.3" r="7.5" fill="#f2121a"/>
<circle cx="197.7" cy="644.4" r="12" fill="#12ad4b"/>
<rect x="691.3" y="576.7" width="194.4" height="98.3" fill="#fff" stroke="#b3222d" stroke-width="2.8"/>
<text x="743.5 769.7 793.9 812.1" y="615.7" font-family='"Noto Sans CJK JP", sans-serif' font-size="25" font-weight="500" fill="#222">前年より</text>
<g transform="translate(718 656) scale(1.1 1)"><text x="0" y="0" font-family='"DejaVu Sans", "Noto Sans CJK JP", sans-serif' font-weight="700" font-size="34.5" letter-spacing="-3.0" fill="#111">162<tspan font-family='"Noto Sans CJK JP", sans-serif' font-size="32" letter-spacing="0">人減</tspan></text></g>
<text x="696" y="1017" font-family='"Noto Sans CJK JP", sans-serif' font-size="17" fill="#333">高井事務所作成</text>
<text x="841" y="1015.8" font-family="Liberation Sans, sans-serif" font-size="17.5" fill="#999">6</text>
</svg>
<div class="edgel"></div><div class="edger"></div>
<div class="band"></div>
<div class="sep"></div>
</body></html>
